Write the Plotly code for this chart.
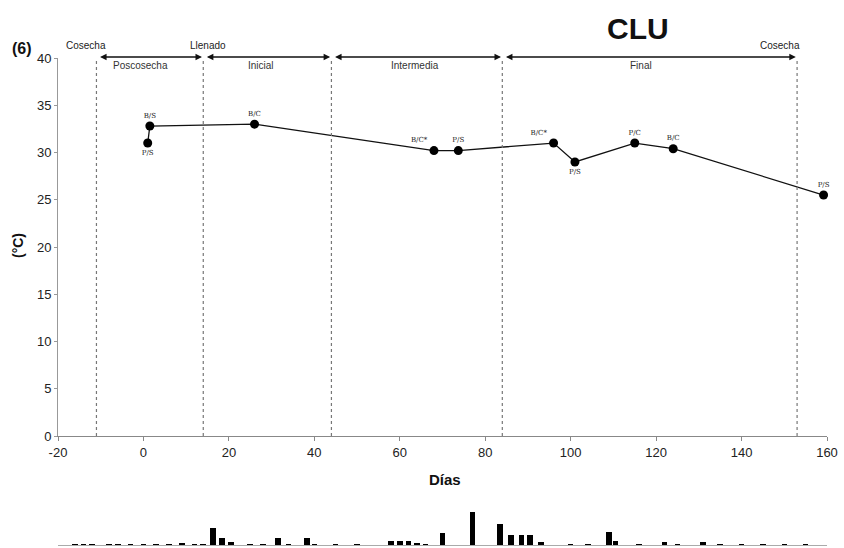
import plotly.graph_objects as go

# Temperature series (°C) by day
dias = [1, 1.5, 26, 68, 73.7, 96, 101, 115, 124, 159.2]
temp = [31.0, 32.8, 33.0, 30.2, 30.2, 31.0, 29.0, 31.0, 30.4, 25.5]
etiquetas = ["P/S", "B/S", "B/C", "B/C*", "P/S", "B/C*", "P/S", "P/C", "B/C", "P/S"]
posiciones = ["bottom center", "top center", "top center", "top left", "top center",
              "top left", "bottom center", "top center", "top center", "top center"]

# Phase boundaries (days) and phase names
limites = [-11, 14, 44, 84, 153]
fases = ["Poscosecha", "Inicial", "Intermedia", "Final"]
fase_x = [-0.8, 27.4, 63.6, 116.5]
eventos = ["Cosecha", "Llenado", "Cosecha"]
evento_x = [-13.5, 15, 149]

# Daily rainfall bars below the main chart
lluvia_dias = [-16, -14, -12, -8, -6, -3, 0, 3, 6, 9, 12, 14, 16.3, 18.4, 20.5, 25, 28, 31.5,
               34, 38.3, 40, 45, 50, 58, 60, 62, 64, 66, 70, 77, 83.5, 86, 88.5, 90.5, 93,
               100, 104, 109, 110.5, 116, 122, 125, 131, 135, 140, 145, 150, 155]
lluvia_mm = [1, 1, 1, 1, 1, 1, 1, 1, 1, 2, 1, 1, 17, 7, 3, 1, 1, 7,
             1, 7, 1, 1, 1, 4, 4, 4, 2, 1, 12, 33, 21, 10, 10, 10, 3,
             1, 1, 13, 4, 1, 3, 1, 3, 1, 1, 1, 1, 1]

x_ticks = list(range(-20, 161, 20))
x_tick_text = [str(v) for v in x_ticks]
y_ticks = list(range(0, 41, 5))

W, H = 844, 548
L, R, T, B = 58, 17, 58, 3
pw, ph = W - L - R, H - T - B


def py_to_paper(yp):
    return 1 - (yp - T) / ph


def px_to_paper(xp):
    return (xp - L) / pw


fig = go.Figure()

fig.add_trace(go.Scatter(
    x=dias, y=temp, mode="lines+markers+text",
    line=dict(color="#111111", width=1.3),
    marker=dict(color="#000000", size=9),
    text=etiquetas, textposition=posiciones,
    textfont=dict(family="DejaVu Serif", size=7, color="#222222"),
    cliponaxis=False, showlegend=False,
))

fig.add_trace(go.Bar(
    x=lluvia_dias, y=lluvia_mm, marker=dict(color="#000000", line=dict(width=0)),
    width=1.3, xaxis="x2", yaxis="y2", showlegend=False,
))

# Dotted phase boundaries
for b in limites:
    fig.add_shape(type="line", x0=b, x1=b, y0=0, y1=40, xref="x", yref="y",
                  line=dict(color="#777777", width=1.2, dash="dot"))

annotations = []
arrow_y = py_to_paper(57)
# Double-headed phase arrows
for a, b in zip(limites[:-1], limites[1:]):
    annotations.append(dict(x=b - 0.3, y=arrow_y, ax=a + 0.5, ay=0, xref="x",
                            yref="paper", axref="x", ayref="pixel", text="",
                            showarrow=True, arrowhead=2, arrowside="end+start",
                            arrowsize=1, arrowwidth=1.3, arrowcolor="#111111"))
for nombre, xp in zip(fases, fase_x):
    annotations.append(dict(x=xp, y=py_to_paper(65), xref="x", yref="paper", text=nombre,
                            showarrow=False, yanchor="middle",
                            font=dict(family="Liberation Sans", size=10, color="#333333")))
for nombre, xp in zip(eventos, evento_x):
    annotations.append(dict(x=xp, y=py_to_paper(45), xref="x", yref="paper", text=nombre,
                            showarrow=False, yanchor="middle",
                            font=dict(family="Liberation Sans", size=10, color="#222222")))

texts = [
    ("<b>CLU</b>", 638, 28, 30, 0),
    ("<b>(6)</b>", 22, 48, 16, 0),
    ("<b>Días</b>", 445, 479, 15, 0),
    ("<b>(°C)</b>", 18, 246, 14, -90),
]
for txt, xp, yp, size, ang in texts:
    annotations.append(dict(x=px_to_paper(xp), y=py_to_paper(yp), xref="paper",
                            yref="paper", text=txt, showarrow=False, textangle=ang,
                            xanchor="center", yanchor="middle",
                            font=dict(family="Liberation Sans", size=size, color="#111111")))

main_bottom = (H - B - 436) / ph
bar_top = (H - B - 505) / ph

fig.update_layout(
    width=W, height=H,
    margin=dict(l=L, r=R, t=T, b=B, autoexpand=False),
    paper_bgcolor="white", plot_bgcolor="white",
    font=dict(family="Liberation Sans", color="#222222"),
    annotations=annotations,
    bargap=0,
    xaxis=dict(range=[-20, 160], tickvals=x_ticks, ticktext=x_tick_text, showgrid=False,
               zeroline=False, showline=True, linecolor="#888888", linewidth=1,
               ticks="outside", ticklen=4, tickcolor="#888888",
               tickfont=dict(size=13, color="#222222"), anchor="y", automargin=False),
    yaxis=dict(range=[0, 40], tickvals=y_ticks, showgrid=False, zeroline=False,
               showline=True, linecolor="#999999", linewidth=1, ticks="outside",
               ticklen=3, tickcolor="#999999", tickfont=dict(size=13, color="#222222"),
               domain=[main_bottom, 1], anchor="x", automargin=False),
    xaxis2=dict(range=[-20, 160], showticklabels=False, showgrid=False, zeroline=False,
                showline=True, linecolor="#aaaaaa", linewidth=1, ticks="",
                anchor="y2", automargin=False),
    yaxis2=dict(range=[0, 40], showticklabels=False, showgrid=False, zeroline=False,
                showline=False, domain=[0, bar_top], anchor="x2", automargin=False),
)

fig.write_html("out.html")
